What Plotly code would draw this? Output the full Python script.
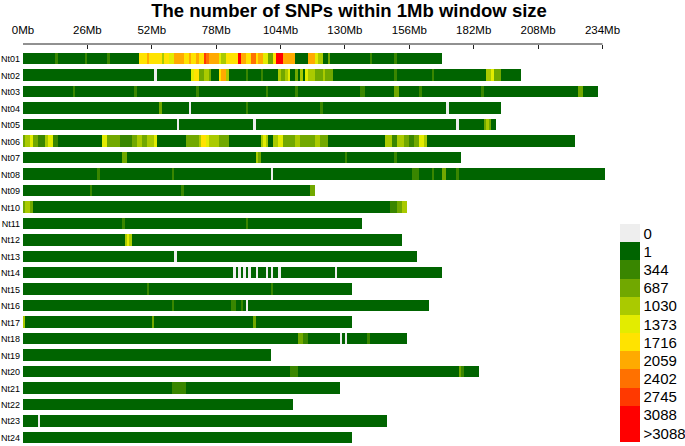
import plotly.graph_objects as go

# ---------------- data ----------------
chrom_names = ["Nt%02d" % i for i in range(1, 25)]
# chromosome lengths in 1Mb windows
chrom_lengths = [169, 201, 232, 193, 191, 223, 177, 235, 118, 155, 137, 153,
                 159, 169, 133, 164, 133, 155, 100, 184, 128, 109, 147, 133]

# density level of each bin: 0 -> "0", 1 -> "1", 2 -> "344", ... 11 -> ">3088"
level_labels = ["0", "1", "344", "687", "1030", "1373", "1716", "2059",
                "2402", "2745", "3088", "&gt;3088"]
level_colors = ["#EEEEEE", "#006400", "#398600", "#71A800", "#AACA00", "#E3EC00",
                "#FFE300", "#FFAA00", "#FF7100", "#FF3900", "#FF0000", "#FF0000"]

# windows whose level differs from the background level 1: (start, end, level)
nt01_segments = [(13, 14, 2), (25, 26, 2), (34, 35, 2), (47, 50, 6), (50, 51, 7), (51, 56, 6),
                 (56, 57, 4), (57, 59, 6), (59, 61, 5), (61, 65, 7), (65, 67, 6), (67, 68, 7),
                 (68, 70, 6), (70, 71, 7), (71, 73, 6), (73, 74, 9), (74, 75, 8), (75, 79, 7),
                 (79, 80, 5), (80, 82, 4), (82, 87, 6), (87, 88, 10), (88, 90, 7), (90, 92, 6),
                 (92, 94, 8), (94, 95, 6), (95, 97, 7), (97, 99, 5), (99, 101, 3), (101, 102, 6),
                 (102, 105, 10), (105, 110, 7), (115, 118, 7), (118, 119, 5), (119, 121, 4),
                 (123, 124, 3), (140, 141, 2), (150, 151, 2)]
nt02_segments = [(53, 54, 0), (68, 69, 5), (69, 71, 6), (71, 73, 3), (73, 75, 4), (75, 76, 3),
                 (79, 80, 6), (80, 82, 7), (82, 83, 4), (90, 91, 2), (96, 97, 2), (103, 104, 4),
                 (104, 106, 3), (106, 107, 4), (107, 108, 5), (110, 111, 3), (112, 113, 4),
                 (114, 115, 5), (115, 118, 4), (118, 121, 3), (121, 122, 4), (122, 125, 3),
                 (150, 151, 2), (165, 166, 2), (187, 189, 4), (189, 190, 5), (190, 193, 3)]
nt03_segments = [(20, 21, 2), (45, 46, 2), (70, 71, 2), (98, 99, 2), (110, 111, 2), (136, 138, 2),
                 (150, 152, 3), (160, 161, 2), (185, 186, 2), (224, 226, 3)]
nt04_segments = [(55, 56, 3), (67, 68, 0), (90, 91, 2), (120, 121, 2), (171, 172, 0)]
nt05_segments = [(62, 63, 0), (93, 94, 0), (175, 176, 0), (186, 187, 3), (187, 188, 4), (188, 189, 3)]
nt06_segments = [(0, 1, 3), (1, 3, 4), (3, 4, 5), (4, 6, 3), (6, 9, 2), (9, 10, 4), (10, 12, 5),
                 (12, 14, 2), (32, 34, 5), (34, 39, 3), (39, 44, 2), (44, 46, 3), (46, 48, 4),
                 (48, 50, 3), (50, 53, 4), (53, 54, 5), (66, 71, 3), (71, 72, 4), (72, 74, 6),
                 (74, 75, 5), (75, 79, 4), (79, 83, 3), (96, 97, 4), (97, 98, 5), (98, 99, 4),
                 (101, 103, 4), (103, 105, 5), (105, 110, 3), (110, 112, 4), (112, 118, 3),
                 (118, 120, 4), (120, 123, 3), (146, 149, 4), (149, 151, 2), (151, 154, 4),
                 (154, 156, 3), (156, 158, 2), (158, 160, 3), (160, 162, 5), (162, 163, 4)]
nt07_segments = [(40, 42, 3), (94, 95, 4), (95, 96, 3), (130, 131, 2), (150, 151, 2)]
nt08_segments = [(30, 31, 2), (60, 61, 2), (100, 101, 0), (157, 160, 2), (165, 166, 2),
                 (169, 171, 3), (175, 176, 2)]
nt09_segments = [(27, 28, 2), (64, 65, 2), (116, 118, 3)]
nt10_segments = [(0, 1, 3), (1, 3, 4), (3, 4, 3), (148, 151, 2), (151, 153, 3), (153, 155, 4)]
nt11_segments = [(40, 41, 2), (90, 91, 2)]
nt12_segments = [(41, 42, 4), (42, 43, 5), (43, 44, 4)]
nt13_segments = [(61, 62, 0)]
nt14_segments = [(85, 86, 0), (87, 88, 0), (89, 90, 0), (91, 92, 0), (94, 95, 0), (98, 99, 0),
                 (100, 101, 0), (103, 104, 0), (126, 127, 0)]
nt15_segments = [(50, 51, 2), (100, 101, 2)]
nt16_segments = [(60, 61, 2), (84, 86, 2), (88, 89, 2), (90, 91, 0)]
nt17_segments = [(0, 1, 4), (52, 53, 3), (93, 94, 3)]
nt18_segments = [(111, 113, 3), (113, 115, 2), (128, 129, 0), (130, 131, 0), (139, 140, 2)]
nt19_segments = []
nt20_segments = [(108, 111, 2), (176, 177, 3), (177, 178, 2)]
nt21_segments = [(60, 66, 2)]
nt22_segments = []
nt23_segments = [(6, 7, 0)]
nt24_segments = []

all_segments = [nt01_segments, nt02_segments, nt03_segments, nt04_segments, nt05_segments,
                nt06_segments, nt07_segments, nt08_segments, nt09_segments, nt10_segments,
                nt11_segments, nt12_segments, nt13_segments, nt14_segments, nt15_segments,
                nt16_segments, nt17_segments, nt18_segments, nt19_segments, nt20_segments,
                nt21_segments, nt22_segments, nt23_segments, nt24_segments]

ruler_ticks = [0, 26, 52, 78, 104, 130, 156, 182, 208, 234]
ruler_labels = ["%dMb" % t for t in ruler_ticks]

# ---------------- build matrix ----------------
n_levels = len(level_labels)
max_len = max(chrom_lengths)


def code_of(level):
    # reversed so "0" sits on top of the key; codes run 1..n_levels
    return n_levels - level


z = []
for length, segs in zip(chrom_lengths, all_segments):
    row = []
    for i in range(max_len):
        if i >= length:
            row.append(None)
            continue
        lvl = 1
        for s, e, l in segs:
            if s <= i < e:
                lvl = l
        row.append(code_of(lvl))
    z.append(row)

colorscale = []
for k in range(n_levels):          # k-th band from the bottom holds code k+1
    col = level_colors[n_levels - 1 - k]
    colorscale.append([k / n_levels, col])
    colorscale.append([(k + 1) / n_levels, col])

FONT = "Arial, Liberation Sans, sans-serif"
W, H = 685, 446
L, R, T, B = 23, 72, 20, 0
plot_w = W - L - R
x_max = plot_w / 2.5
plot_h = H - T - B
bars_top_px = 51
ruler_px = 44
y_dom_top = (H - B - bars_top_px) / plot_h
ruler_pos = (H - B - ruler_px) / plot_h

fig = go.Figure()
fig.add_trace(go.Heatmap(
    z=z, x0=0.5, dx=1, y=chrom_names,
    zmin=0.5, zmax=n_levels + 0.5,
    colorscale=colorscale, ygap=5, xgap=0,
    hoverinfo="skip",
    colorbar=dict(
        tickmode="array",
        tickvals=[code_of(lv) for lv in range(n_levels)],
        ticktext=level_labels,
        ticks="", outlinewidth=0,
        ticklabeloverflow="allow",
        thickness=20, thicknessmode="pixels",
        len=217.5, lenmode="pixels",
        xref="container", x=620 / W, xanchor="left",
        yref="container", y=1 - 235 / H, yanchor="top",
        xpad=0, ypad=0,
        tickfont=dict(family=FONT, size=15, color="black"),
    ),
))
# invisible helper trace so the ruler axis is drawn
fig.add_trace(go.Scatter(x=[ruler_ticks[0], ruler_ticks[-1]], y=[chrom_names[0], chrom_names[0]],
                         mode="markers", marker=dict(opacity=0), xaxis="x2",
                         hoverinfo="skip", showlegend=False))

fig.add_shape(type="line", xref="x2", yref="paper",
              x0=ruler_ticks[0], x1=ruler_ticks[-1], y0=ruler_pos, y1=ruler_pos,
              line=dict(color="#222222", width=1))

fig.update_layout(
    width=W, height=H,
    margin=dict(l=L, r=R, t=T, b=B),
    paper_bgcolor="white", plot_bgcolor="white",
    showlegend=False,
    title=dict(text="<b>The number of SNPs within 1Mb window size</b>",
               font=dict(family=FONT, size=18.5, color="black"),
               xref="container", x=349 / W, xanchor="center",
               yref="container", y=1 - 11 / H, yanchor="middle"),
    xaxis=dict(range=[0, x_max], showticklabels=False, showgrid=False, zeroline=False,
               showline=False, ticks=""),
    xaxis2=dict(range=[0, x_max], overlaying="x", anchor="free", position=ruler_pos,
                side="top", showgrid=False, zeroline=False, showline=False,
                tickmode="array", tickvals=ruler_ticks, ticktext=ruler_labels,
                ticks="inside", ticklen=4, tickcolor="#222222", tickwidth=1,
                ticklabelstandoff=8,
                tickfont=dict(family=FONT, size=11.5, color="black")),
    yaxis=dict(domain=[0, y_dom_top], range=[len(chrom_names) - 0.5, -0.5],
               type="category", showgrid=False, zeroline=False, showline=False,
               ticks="", ticklabelstandoff=2,
               tickfont=dict(family=FONT, size=9, color="black")),
)

fig.write_html("out.html")
